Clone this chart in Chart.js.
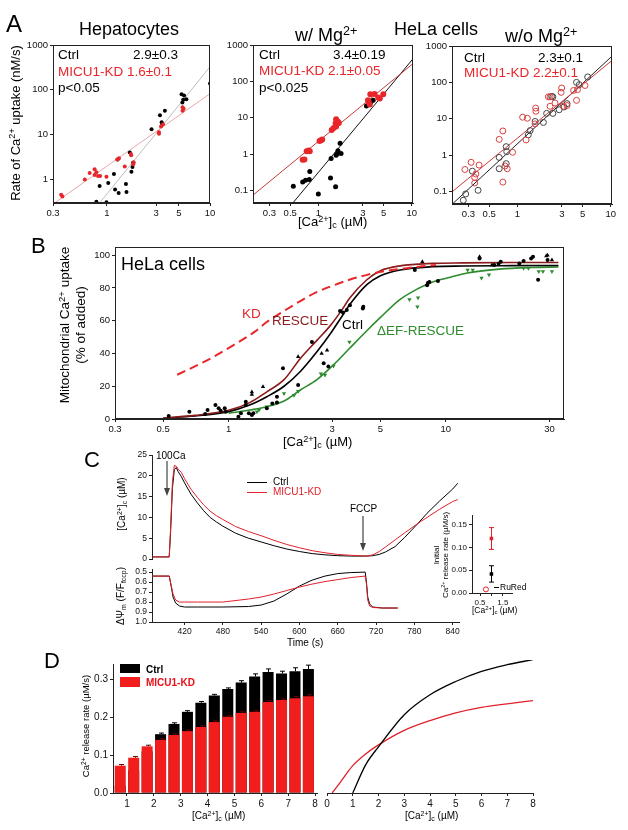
<!DOCTYPE html>
<html>
<head>
<meta charset="utf-8">
<script src="https://cdn.jsdelivr.net/npm/chart.js@4.4.1/dist/chart.umd.min.js"></script>
<style>
body { margin: 0; background: #fff; }
#fig { position: relative; width: 628px; height: 830px; overflow: hidden; font-family: Arial, "Liberation Sans", sans-serif; color: #000; }
canvas { position: absolute; }
.t { position: absolute; white-space: nowrap; line-height: 1; }
.rot { transform: translate(-50%, -50%) rotate(-90deg); text-align: center; }
sup { font-size: 70%; vertical-align: 0.45em; line-height: 0; }
sub { font-size: 70%; vertical-align: -0.25em; line-height: 0; }
.red { color: #e8262a; }
</style>
</head>
<body>
<div id="fig">
  <canvas id="a1"></canvas>
  <canvas id="a2"></canvas>
  <canvas id="a3"></canvas>
  <canvas id="b1"></canvas>
  <canvas id="cTop"></canvas>
  <canvas id="cBot"></canvas>
  <canvas id="cIns"></canvas>
  <canvas id="dBar"></canvas>
  <canvas id="dFit"></canvas>

  <svg style="position:absolute;left:0;top:0" width="628" height="830">
    <g stroke="#444" fill="#444">
      <line x1="167" y1="461" x2="167" y2="490" stroke-width="1.2"/>
      <polygon points="164,488 170,488 167,496" stroke="none"/>
      <line x1="363" y1="516" x2="363" y2="545" stroke-width="1.2"/>
      <polygon points="360,543 366,543 363,551" stroke="none"/>
    </g>
    <line x1="247" y1="482.5" x2="267" y2="482.5" stroke="#000"/>
    <line x1="247" y1="492.5" x2="267" y2="492.5" stroke="#e0202a"/>
    <line x1="494" y1="587.5" x2="499" y2="587.5" stroke="#000"/>
    <rect x="120" y="664" width="20" height="9" fill="#000"/>
    <rect x="120" y="677" width="20" height="10" fill="#f21d1d"/>
  </svg>

  <!-- panel letters -->
  <div class="t" style="left:6px;top:12px;font-size:24px">A</div>
  <div class="t" style="left:31px;top:235px;font-size:22px">B</div>
  <div class="t" style="left:84px;top:449px;font-size:22px">C</div>
  <div class="t" style="left:44px;top:650px;font-size:22px">D</div>

  <!-- panel A -->
  <div class="t" style="left:79px;top:20px;font-size:18px">Hepatocytes</div>
  <div class="t" style="left:394px;top:20px;font-size:18px">HeLa cells</div>
  <div class="t" style="left:295px;top:26px;font-size:18px">w/ Mg<sup>2+</sup></div>
  <div class="t" style="left:505px;top:27px;font-size:18px">w/o Mg<sup>2+</sup></div>
  <div class="t rot" style="left:15px;top:123px;font-size:13px">Rate of Ca<sup>2+</sup> uptake (nM/s)</div>
  <div class="t" style="left:298px;top:215px;font-size:13px">[Ca<sup>2+</sup>]<sub>c</sub> (&micro;M)</div>

  <div class="t" style="left:58px;top:48px;font-size:13.5px">Ctrl</div>
  <div class="t" style="left:133px;top:48px;font-size:13.5px">2.9&plusmn;0.3</div>
  <div class="t red" style="left:58px;top:65px;font-size:13.5px">MICU1-KD 1.6&plusmn;0.1</div>
  <div class="t" style="left:58px;top:81px;font-size:13.5px">p&lt;0.05</div>

  <div class="t" style="left:259px;top:48px;font-size:13.5px">Ctrl</div>
  <div class="t" style="left:333px;top:48px;font-size:13.5px">3.4&plusmn;0.19</div>
  <div class="t red" style="left:259px;top:64px;font-size:13.5px">MICU1-KD 2.1&plusmn;0.05</div>
  <div class="t" style="left:259px;top:81px;font-size:13.5px">p&lt;0.025</div>

  <div class="t" style="left:464px;top:51px;font-size:13.5px">Ctrl</div>
  <div class="t" style="left:538px;top:51px;font-size:13.5px">2.3&plusmn;0.1</div>
  <div class="t red" style="left:464px;top:66px;font-size:13.5px">MICU1-KD 2.2&plusmn;0.1</div>

  <!-- panel B -->
  <div class="t" style="left:121px;top:255px;font-size:18px">HeLa cells</div>
  <div class="t rot" style="left:73px;top:325px;font-size:13.5px;line-height:16px">Mitochondrial Ca<sup>2+</sup> uptake<br>(% of added)</div>
  <div class="t" style="left:283px;top:435px;font-size:13px">[Ca<sup>2+</sup>]<sub>c</sub> (&micro;M)</div>
  <div class="t" style="left:242px;top:307px;font-size:13.5px;color:#e8262a">KD</div>
  <div class="t" style="left:272px;top:314px;font-size:13.5px;color:#8b1a1a">RESCUE</div>
  <div class="t" style="left:342px;top:318px;font-size:13.5px">Ctrl</div>
  <div class="t" style="left:377px;top:324px;font-size:13.5px;color:#2e8b2e">&Delta;EF-RESCUE</div>

  <!-- panel C -->
  <div class="t" style="left:156px;top:451px;font-size:10px">100Ca</div>
  <div class="t" style="left:350px;top:504px;font-size:10px">FCCP</div>
  <div class="t" style="left:273px;top:477px;font-size:10px">Ctrl</div>
  <div class="t" style="left:273px;top:487px;font-size:10px;color:#e0202a">MICU1-KD</div>
  <div class="t rot" style="left:122px;top:504px;font-size:10px">[Ca<sup>2+</sup>]<sub>c</sub> (&micro;M)</div>
  <div class="t rot" style="left:121px;top:596px;font-size:10px">&Delta;&Psi;<sub>m</sub> (F/F<sub>fccp</sub>)</div>
  <div class="t" style="left:287px;top:638px;font-size:10px">Time (s)</div>
  <div class="t rot" style="left:441px;top:555px;font-size:8px;line-height:9px">Initial<br>Ca<sup>2+</sup> release rate (&micro;M/s)</div>
  <div class="t" style="left:472px;top:606px;font-size:8.5px">[Ca<sup>2+</sup>]<sub>c</sub> (&micro;M)</div>
  <div class="t" style="left:500px;top:583px;font-size:8.5px">RuRed</div>

  <!-- panel D -->
  <div class="t" style="left:146px;top:665px;font-size:10px;font-weight:bold">Ctrl</div>
  <div class="t" style="left:146px;top:678px;font-size:10px;font-weight:bold;color:#e8101a">MICU1-KD</div>
  <div class="t rot" style="left:86px;top:726px;font-size:9.5px">Ca<sup>2+</sup> release rate (&micro;M/s)</div>
  <div class="t" style="left:192px;top:811px;font-size:10px">[Ca<sup>2+</sup>]<sub>c</sub> (&micro;M)</div>
  <div class="t" style="left:405px;top:811px;font-size:10px">[Ca<sup>2+</sup>]<sub>c</sub> (&micro;M)</div>
</div>

<script>
const FONT = 'Arial, "Liberation Sans", sans-serif';
Chart.defaults.font.family = FONT;

// ---- Panel A: hepatocytes ----
const hepCtrlX = [10, 5.3, 5.6, 5.5, 5.9, 5.4, 3.65, 3.27, 3.4, 3.45, 2.71, 1.67, 1.27, 1.8, 1.77, 1.73, 1.17, 1.03, 0.85, 1.2, 1.3, 1.53, 1.55, 0.79, 0.99];
const hepCtrlY = [138, 80, 75, 60, 62, 52, 34, 27, 19, 17, 13.3, 4, 2.8, 2.4, 1.9, 1.5, 1.33, 0.84, 0.72, 0.6, 0.5, 0.8, 0.53, 0.32, 0.31];
const hepKdX = [0.36, 0.37, 0.61, 0.68, 0.76, 0.79, 0.76, 0.82, 0.86, 0.99, 1.26, 1.31, 1.49, 1.71, 1.72, 1.8, 1.82, 3.2, 3.2, 3.35, 3.5, 5.42, 5.42, 5.55];
const hepKdY = [0.46, 0.42, 1.0, 1.4, 1.7, 1.45, 1.26, 1.2, 1.2, 1.15, 2.8, 3.0, 1.95, 3.7, 3.5, 2.2, 2.4, 11.3, 10.5, 15.3, 17, 41, 34, 38];
const hepCtrlFitX = [0.85, 10];
const hepCtrlFitY = [0.3, 326];
const hepKdFitX = [0.31, 10];
const hepKdFitY = [0.3, 82];

// ---- Panel A: HeLa with Mg ----
const mgCtrlX = [0.54, 0.68, 0.73, 0.8, 0.81, 1.0, 1.35, 1.53, 1.37, 1.58, 1.62, 1.71, 1.75, 1.55, 3.27, 3.65, 3.86];
const mgCtrlY = [0.13, 0.17, 0.19, 0.2, 0.33, 0.08, 0.22, 0.125, 0.76, 1.0, 1.23, 1.97, 1.03, 0.93, 21, 27, 30];
const mgKdX = [0.68, 0.71, 0.75, 0.79, 0.81, 1.03, 1.07, 1.1, 1.39, 1.46, 1.55, 1.53, 1.62, 1.66, 1.55, 3.46, 3.55, 3.4, 3.6, 4.0, 4.37, 4.55, 4.95];
const mgKdY = [0.7, 0.71, 1.2, 1.25, 1.2, 2.3, 2.4, 2.5, 4.6, 5.2, 5.7, 7, 7.7, 7.2, 9, 27, 23, 30, 44, 45, 36, 34, 44];
const mgCtrlFitX = [0.53, 10.4];
const mgCtrlFitY = [0.044, 430];
const mgKdFitX = [0.2, 10.4];
const mgKdFitY = [0.074, 314];

// ---- Panel A: HeLa without Mg ----
const noMgCtrlX = [0.264, 0.28, 0.33, 0.38, 0.64, 0.64, 0.76, 0.77, 0.76, 1.31, 1.37, 1.55, 1.9, 2.06, 2.33, 2.4, 2.4, 2.8, 3.16, 3.4, 4.3, 4.6, 5.66];
const noMgCtrlY = [0.057, 0.085, 0.36, 0.107, 0.86, 0.42, 1.7, 1.24, 0.58, 3.6, 4.7, 8.4, 7.9, 14, 41, 40, 14, 17.6, 21, 26, 100, 86, 141];
const noMgKdX = [0.275, 0.32, 0.35, 0.36, 0.35, 0.39, 0.64, 0.7, 0.7, 0.74, 0.78, 0.89, 1.14, 1.28, 1.24, 1.55, 1.57, 1.58, 2.15, 2.24, 2.24, 2.53, 2.98, 2.94, 3.1, 3.4, 4.0, 4.3, 4.4, 5.3];
const noMgKdY = [0.4, 0.63, 0.24, 0.3, 0.17, 0.53, 2.7, 4.6, 0.18, 0.5, 0.42, 1.19, 11, 10.3, 2.6, 7.2, 19.6, 16, 40, 40, 22, 27, 70, 53, 22, 23, 60, 32, 63, 82];
const noMgCtrlFitX = [0.2, 10.3];
const noMgCtrlFitY = [0.044, 525];
const noMgKdFitX = [0.2, 10.3];
const noMgKdFitY = [0.097, 400];

const logTicksHep = [0.3, 1, 3, 5, 10];
const logTicksHeLa = [0.3, 0.5, 1, 3, 5, 10];
const rateTicksHep = [1, 10, 100, 1000];
const rateTicksHeLa = [0.1, 1, 10, 100, 1000];

// ---- Panel B ----
const bCurveX = [0.5, 0.7, 1.0, 1.25, 1.5, 1.8, 2.14, 2.55, 2.94, 3.3, 3.62, 4.33, 5.0, 6.16, 8.7, 12, 20, 33];
const bCtrlCurveY = [0.5, 1.8, 4.5, 8.5, 13.6, 20, 29, 41, 52, 62, 70, 82, 87.5, 91, 93, 93.4, 93.6, 93.7];
const bRescueCurveY = [0.6, 2.2, 5.3, 10, 16.6, 24, 37, 48, 57, 66, 74, 85, 90.5, 93.5, 95, 95.3, 95.5, 95.5];
const bEfCurveX = [1.0, 1.25, 1.5, 1.8, 2.14, 2.55, 3.04, 3.6, 4.34, 5.0, 6.1, 7.3, 8.7, 10.5, 12.4, 17.6, 25, 33];
const bEfCurveY = [3.5, 5.5, 7.5, 11, 17.7, 24, 33, 43, 54, 62, 72.6, 79, 83.7, 86.5, 89, 91.5, 92.5, 92.8];
const bKdCurveX = [0.58, 0.8, 1.05, 1.31, 1.51, 1.8, 2.14, 2.5, 3.03, 3.6, 4.34, 5.2, 6.1, 7.5, 9.0];
const bKdCurveY = [27, 36, 45, 53, 59.5, 66, 72, 77, 81.5, 85, 88, 90.2, 91.5, 93, 94];
const bCtrlPtsX = [0.53, 0.66, 0.78, 0.8, 0.87, 0.9, 0.92, 0.96, 0.97, 1.11, 1.14, 1.2, 1.2, 1.24, 1.28, 1.3, 1.5, 1.59, 1.67, 1.67, 1.78, 2.09, 2.42, 2.74, 2.88, 3.26, 3.36, 3.5, 3.62, 4.15, 4.17, 7.2, 8.2, 8.27, 8.4, 9.2, 14.3, 17.9, 17.5, 16.7, 21.8, 22.8, 24.7, 25.2, 26.6, 29.4];
const bCtrlPtsY = [1.8, 4.5, 3, 5.5, 8.5, 6.5, 5, 6.5, 4.5, 1.4, 3.5, 10.5, 8.5, 3.5, 2.5, 3.5, 6.5, 9.5, 13.6, 10, 31, 20.7, 47, 34, 32, 66, 65, 66.5, 69.5, 67.5, 68.5, 91, 81.7, 83, 83.7, 84.3, 98, 96, 94.7, 94, 95, 96.5, 98, 99, 85, 97];
const bTriX = [1.28, 1.28, 1.44, 2.09, 2.68, 2.84, 7.8, 14.3, 16.3, 29, 29.4, 30.8];
const bTriY = [16.5, 15, 19.7, 38, 40, 42, 96, 99, 94, 99.5, 100, 97];
const bEfPtsX = [1.35, 1.38, 1.5, 1.8, 2.0, 2.09, 2.66, 2.78, 3.04, 3.6, 6.8, 7.45, 7.4, 12.6, 13.3, 14.6, 15.8, 22.8, 24, 26.8, 28, 30.8];
const bEfPtsY = [4.5, 5.5, 7.5, 15.5, 14.5, 17, 27.6, 26.8, 32.3, 47, 73, 74, 68.5, 91, 91, 86, 88, 92, 92, 90, 90, 90];
const bXTicks = [0.3, 0.5, 1, 3, 5, 10, 30];
const bYTicks = [0, 20, 40, 60, 80, 100];

// ---- Panel C ----
const cTimeCa = [369, 396, 398, 401, 404, 407, 410, 415, 420, 430, 440, 450, 460, 470, 480, 500, 520, 540, 560, 580, 600, 620, 640, 660, 680, 700, 706, 715, 725, 735, 750, 765, 786, 800, 820, 840, 848];
const cCaCtrl = [0.5, 0.5, 6, 17, 21.5, 22, 21, 19.8, 18.3, 15.6, 13.5, 11.6, 10, 8.9, 7.9, 6.2, 5.0, 4.1, 3.2, 2.4, 1.8, 1.3, 1.0, 0.8, 0.7, 0.7, 0.7, 0.8, 1.1, 1.7, 3.0, 5.2, 8.6, 11, 14, 16.8, 18.2];
const cCaKd = [0.5, 0.5, 7, 18.5, 22.5, 22.3, 21.6, 20.8, 19.3, 16.8, 14.8, 13, 11.5, 10.4, 9.5, 7.8, 6.6, 5.6, 4.5, 3.5, 2.7, 2.0, 1.5, 1.1, 0.9, 0.75, 0.72, 1.0, 1.8, 2.9, 4.6, 6.3, 8.6, 10, 12, 13.8, 14.3];
const cTimePsi = [369, 396, 399, 402, 406, 412, 420, 440, 480, 520, 540, 560, 580, 600, 620, 640, 660, 680, 703, 705, 707, 710, 715, 730, 754];
const cPsiCtrl = [0.54, 0.54, 0.64, 0.75, 0.81, 0.84, 0.85, 0.85, 0.85, 0.845, 0.83, 0.79, 0.72, 0.64, 0.58, 0.54, 0.515, 0.505, 0.5, 0.6, 0.75, 0.82, 0.85, 0.86, 0.86];
const cPsiKd = [0.54, 0.54, 0.63, 0.72, 0.78, 0.8, 0.8, 0.8, 0.8, 0.77, 0.75, 0.72, 0.685, 0.65, 0.62, 0.595, 0.575, 0.555, 0.54, 0.62, 0.78, 0.84, 0.855, 0.86, 0.86];
const cTimeTicks = [420, 480, 540, 600, 660, 720, 780, 840];
const cCaTicks = [0, 5, 10, 15, 20, 25];
const cPsiTicks = [0.5, 0.6, 0.7, 0.8, 0.9, 1.0];
const insetX = [1.0, 1.0];          // ctrl, KD
const insetY = [0.042, 0.12];
const insetErr = [0.018, 0.024];
const ruRedX = [0.76];
const ruRedY = [0.008];

// ---- Panel D ----
const dX = [0.75, 1.25, 1.75, 2.25, 2.75, 3.25, 3.75, 4.25, 4.75, 5.25, 5.75, 6.25, 6.75, 7.25, 7.75];
const dCtrl = [0.019, 0.06, 0.11, 0.155, 0.182, 0.214, 0.238, 0.257, 0.274, 0.291, 0.307, 0.319, 0.315, 0.321, 0.327];
const dKd = [0.072, 0.093, 0.123, 0.14, 0.153, 0.163, 0.174, 0.187, 0.201, 0.211, 0.214, 0.24, 0.245, 0.25, 0.255];
const dCtrlErr = [0.002, 0.003, 0.003, 0.003, 0.003, 0.003, 0.003, 0.003, 0.003, 0.005, 0.007, 0.008, 0.006, 0.009, 0.01];
const dKdErr = [0.003, 0.003, 0.003, 0.003, 0.003, 0.003, 0.003, 0.003, 0.003, 0.003, 0.003, 0.003, 0.003, 0.004, 0.004];
const dFitX = [1, 1.5, 2, 3, 4, 5, 6, 7, 8];
const dFitCtrlY = [0, 0.072, 0.118, 0.2, 0.251, 0.285, 0.311, 0.328, 0.341];
const dFitKdX = [0.2, 0.5, 1, 1.5, 2, 3, 4, 5, 6, 7, 8];
const dFitKdY = [0, 0.026, 0.07, 0.1, 0.123, 0.16, 0.185, 0.205, 0.219, 0.228, 0.236];

const zip = (xs, ys) => xs.map((x, i) => ({ x: x, y: ys[i] }));

const framePlugin = {
    id: 'frame',
    afterDatasetsDraw(chart) {
        const a = chart.chartArea, ctx = chart.ctx;
        ctx.save();
        ctx.strokeStyle = '#222';
        ctx.lineWidth = 1;
        ctx.strokeRect(Math.round(a.left) + 0.5, Math.round(a.top) + 0.5, Math.round(a.width) - 1, Math.round(a.height) - 1);
        ctx.restore();
    }
};

// error bars drawn through the chart's scales; "before" sets go under the bars
function errorBars(sets) {
    const draw = (chart, before) => {
        const ctx = chart.ctx, xs = chart.scales.x, ys = chart.scales.y;
        sets.filter(s => !!s.before === before).forEach(s => {
            ctx.save();
            ctx.strokeStyle = s.color;
            ctx.lineWidth = 1;
            s.x.forEach((xv, i) => {
                const px = Math.round(xs.getPixelForValue(xv)) + 0.5 + (s.dx || 0);
                const hi = ys.getPixelForValue(s.y[i] + s.e[i]);
                const lo = ys.getPixelForValue(s.both ? s.y[i] - s.e[i] : s.y[i]);
                ctx.beginPath();
                ctx.moveTo(px, lo); ctx.lineTo(px, hi);
                ctx.moveTo(px - s.cap, hi); ctx.lineTo(px + s.cap, hi);
                if (s.both) { ctx.moveTo(px - s.cap, lo); ctx.lineTo(px + s.cap, lo); }
                ctx.stroke();
            });
            ctx.restore();
        });
    };
    return {
        id: 'errs',
        beforeDatasetsDraw(chart) { draw(chart, true); },
        afterDatasetsDraw(chart) { draw(chart, false); }
    };
}

function ax(type, min, max, tickVals, fmt, size, more) {
    return Object.assign({
        type: type,
        min: min,
        max: max,
        offset: false,
        afterBuildTicks: s => { s.ticks = tickVals.map(v => ({ value: v })); },
        ticks: { callback: fmt, font: { size: size, family: FONT }, color: '#111', padding: 2, autoSkip: false, maxRotation: 0 },
        grid: { offset: false, drawOnChartArea: false, drawTicks: true, tickLength: 3, color: '#222' },
        border: { display: true, color: '#222', width: 1 }
    }, more || {});
}

function makeChart(id, area, pad, config) {
    const cv = document.getElementById(id);
    const W = area.w + pad.l + pad.r, H = area.h + pad.t + pad.b;
    cv.width = W; cv.height = H;
    cv.style.left = (area.l - pad.l) + 'px';
    cv.style.top = (area.t - pad.t) + 'px';
    cv.style.width = W + 'px';
    cv.style.height = H + 'px';
    const o = config.options;
    o.responsive = false;
    o.animation = false;
    o.devicePixelRatio = 1;
    o.layout = { padding: { top: pad.t, right: pad.r, left: 0, bottom: 0 } };
    o.plugins = Object.assign({ legend: { display: false }, tooltip: { enabled: false } }, o.plugins || {});
    o.scales.x.afterFit = s => { s.height = pad.b; };
    o.scales.y.afterFit = s => { s.width = pad.l; };
    return new Chart(cv, config);
}

const str = v => String(v);
const dot = (xs, ys, color, r) => ({ data: zip(xs, ys), backgroundColor: color, borderColor: color, pointRadius: r, borderWidth: 0 });
const ring = (xs, ys, color, r) => ({ data: zip(xs, ys), backgroundColor: 'rgba(0,0,0,0)', borderColor: color, pointRadius: r, borderWidth: 1 });
const fitLine = (xs, ys, color, w) => ({ data: zip(xs, ys), showLine: true, borderColor: color, borderWidth: w || 1, pointRadius: 0 });

// A1 hepatocytes
makeChart('a1', { l: 53, t: 45, w: 157, h: 158 }, { l: 34, t: 8, r: 12, b: 16 }, {
    type: 'scatter',
    data: { datasets: [
        dot(hepKdX, hepKdY, '#e8262a', 2),
        dot(hepCtrlX, hepCtrlY, '#000', 2),
        fitLine(hepKdFitX, hepKdFitY, '#e8a8a8'),
        fitLine(hepCtrlFitX, hepCtrlFitY, '#bdbdbd'),
    ] },
    options: { scales: {
        x: ax('logarithmic', 0.3, 10, logTicksHep, str, 9.5),
        y: ax('logarithmic', 0.3, 1000, rateTicksHep, str, 9.5),
    } },
    plugins: [framePlugin]
});

// A2 HeLa w/ Mg
makeChart('a2', { l: 253, t: 45, w: 160, h: 158 }, { l: 30, t: 8, r: 12, b: 16 }, {
    type: 'scatter',
    data: { datasets: [
        dot(mgKdX, mgKdY, '#e8262a', 3),
        dot(mgCtrlX, mgCtrlY, '#000', 2.5),
        fitLine(mgKdFitX, mgKdFitY, '#c03a3a'),
        fitLine(mgCtrlFitX, mgCtrlFitY, '#111'),
    ] },
    options: { scales: {
        x: ax('logarithmic', 0.2, 10.3, logTicksHeLa, str, 9.5),
        y: ax('logarithmic', 0.045, 1000, rateTicksHeLa, str, 9.5),
    } },
    plugins: [framePlugin]
});

// A3 HeLa w/o Mg
makeChart('a3', { l: 452, t: 46, w: 160, h: 158 }, { l: 30, t: 8, r: 12, b: 16 }, {
    type: 'scatter',
    data: { datasets: [
        ring(noMgKdX, noMgKdY, '#d84040', 3),
        ring(noMgCtrlX, noMgCtrlY, '#444', 3),
        fitLine(noMgKdFitX, noMgKdFitY, '#d03838'),
        fitLine(noMgCtrlFitX, noMgCtrlFitY, '#222'),
    ] },
    options: { scales: {
        x: ax('logarithmic', 0.2, 10.3, logTicksHeLa, str, 9.5),
        y: ax('logarithmic', 0.045, 1000, rateTicksHeLa, str, 9.5),
    } },
    plugins: [framePlugin]
});

// B uptake curves
makeChart('b1', { l: 115, t: 247, w: 449, h: 172 }, { l: 40, t: 8, r: 14, b: 18 }, {
    type: 'scatter',
    data: { datasets: [
        dot(bCtrlPtsX, bCtrlPtsY, '#000', 2),
        Object.assign(dot(bTriX, bTriY, '#000', 2.5), { pointStyle: 'triangle' }),
        Object.assign(dot(bEfPtsX, bEfPtsY, '#2e8b2e', 2.5), { pointStyle: 'triangle', rotation: 180 }),
        Object.assign(fitLine(bKdCurveX, bKdCurveY, '#e8262a', 2), { borderDash: [9, 5], cubicInterpolationMode: 'monotone' }),
        Object.assign(fitLine(bCurveX, bRescueCurveY, '#8b1a1a', 1.6), { cubicInterpolationMode: 'monotone' }),
        Object.assign(fitLine(bCurveX, bCtrlCurveY, '#000', 1.6), { cubicInterpolationMode: 'monotone' }),
        Object.assign(fitLine(bEfCurveX, bEfCurveY, '#2e8b2e', 1.6), { cubicInterpolationMode: 'monotone' }),
    ] },
    options: { scales: {
        x: ax('logarithmic', 0.3, 35, bXTicks, str, 9.5),
        y: ax('linear', 0, 105, bYTicks, str, 9.5),
    } },
    plugins: [framePlugin]
});

// C top: cytosolic Ca trace
makeChart('cTop', { l: 152, t: 455, w: 307, h: 104 }, { l: 30, t: 8, r: 8, b: 8 }, {
    type: 'scatter',
    data: { datasets: [
        fitLine(cTimeCa, cCaKd, '#e0202a', 1),
        fitLine(cTimeCa, cCaCtrl, '#000', 1),
    ] },
    options: { scales: {
        x: ax('linear', 369, 850, [], str, 8.5, { display: false }),
        y: ax('linear', 0, 25, cCaTicks, str, 8.5),
    } }
});

// C bottom: membrane potential
makeChart('cBot', { l: 152, t: 568, w: 307, h: 54 }, { l: 30, t: 6, r: 8, b: 16 }, {
    type: 'scatter',
    data: { datasets: [
        fitLine(cTimePsi, cPsiKd, '#e0202a', 1),
        fitLine(cTimePsi, cPsiCtrl, '#000', 1),
    ] },
    options: { scales: {
        x: ax('linear', 369, 850, cTimeTicks, str, 8.5),
        y: ax('linear', 0.47, 1.0, cPsiTicks, v => v.toFixed(1), 8.5, { reverse: true }),
    } }
});

// C inset
makeChart('cIns', { l: 472, t: 515, w: 40, h: 78 }, { l: 26, t: 6, r: 6, b: 12 }, {
    type: 'scatter',
    data: { datasets: [
        Object.assign(dot([insetX[1]], [insetY[1]], '#e0202a', 2.5), { pointStyle: 'rect' }),
        Object.assign(dot([insetX[0]], [insetY[0]], '#000', 2.5), { pointStyle: 'rect' }),
        ring(ruRedX, ruRedY, '#e0202a', 2.5),
    ] },
    options: { scales: {
        x: ax('linear', 0.15, 1.9, [0.5, 1.0, 1.5], v => (v === 1 ? '' : String(v)), 8),
        y: ax('linear', 0, 0.17, [0, 0.05, 0.1, 0.15], v => v.toFixed(2), 8),
    } },
    plugins: [errorBars([
        { x: [insetX[0]], y: [insetY[0]], e: [insetErr[0]], color: '#000', cap: 2.5, both: true },
        { x: [insetX[1]], y: [insetY[1]], e: [insetErr[1]], color: '#e0202a', cap: 2.5, both: true },
    ])]
});

// D bars
makeChart('dBar', { l: 113, t: 660, w: 204, h: 133 }, { l: 34, t: 4, r: 6, b: 16 }, {
    type: 'bar',
    data: { datasets: [
        { data: zip(dX, dKd), backgroundColor: '#f21d1d', grouped: false, barPercentage: 0.82, categoryPercentage: 1 },
        { data: zip(dX, dCtrl), backgroundColor: '#000', grouped: false, barPercentage: 0.82, categoryPercentage: 1 },
    ] },
    options: { scales: {
        x: ax('linear', 0.48, 8.07, [1, 2, 3, 4, 5, 6, 7, 8], str, 10),
        y: ax('linear', 0, 0.34, [0, 0.1, 0.2, 0.3], v => v.toFixed(1), 10),
    } },
    plugins: [errorBars([
        { x: dX, y: dCtrl, e: dCtrlErr, color: '#000', cap: 2.5, before: true },
        { x: dX, y: dKd, e: dKdErr, color: '#600', cap: 2.5, dx: 1 },
    ])]
});

// D fitted curves
makeChart('dFit', { l: 327, t: 660, w: 206, h: 133 }, { l: 8, t: 4, r: 10, b: 16 }, {
    type: 'scatter',
    data: { datasets: [
        Object.assign(fitLine(dFitX, dFitCtrlY, '#000', 1.3), { cubicInterpolationMode: 'monotone' }),
        Object.assign(fitLine(dFitKdX, dFitKdY, '#e0202a', 1.3), { cubicInterpolationMode: 'monotone' }),
    ] },
    options: { scales: {
        x: ax('linear', 0, 8, [0, 1, 2, 3, 4, 5, 6, 7, 8], str, 10),
        y: ax('linear', 0, 0.34, [], str, 10, { display: false }),
    } }
});
</script>
</body>
</html>
